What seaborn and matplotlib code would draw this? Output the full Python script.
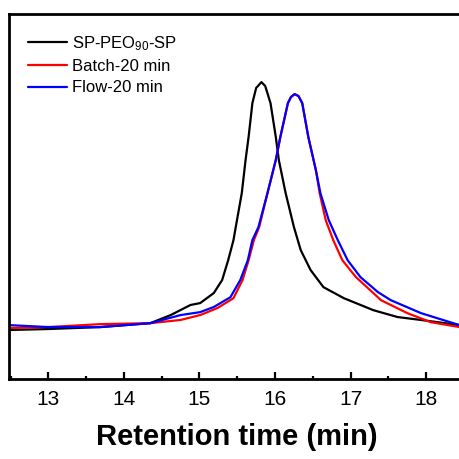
import matplotlib
matplotlib.use("Agg")
import matplotlib.pyplot as plt
import seaborn as sns
import pandas as pd
from matplotlib.ticker import MultipleLocator
from matplotlib.lines import Line2D

sns.set_style("ticks")
plt.rcParams['font.family'] = ['Liberation Sans', 'DejaVu Sans']
plt.rcParams['mathtext.default'] = 'regular'
for k in ['axes.edgecolor', 'xtick.color', 'ytick.color', 'text.color', 'axes.labelcolor']:
    plt.rcParams[k] = 'black'

# Retention time (min) and normalized RI intensity
t_black = [12.48, 13.00, 13.69, 14.35, 14.62, 14.88, 15.01, 15.19, 15.30, 15.38, 15.45,
           15.48, 15.56, 15.61, 15.65, 15.70, 15.75, 15.82, 15.87, 15.94, 16.01, 16.05,
           16.14, 16.25, 16.34, 16.47, 16.64, 16.91, 17.30, 17.62, 17.93, 18.44]
i_black = [-0.012, -0.008, 0.000, 0.016, 0.049, 0.090, 0.098, 0.139, 0.192, 0.273, 0.355,
           0.408, 0.547, 0.682, 0.776, 0.914, 0.976, 1.000, 0.984, 0.914, 0.776, 0.682,
           0.547, 0.408, 0.314, 0.233, 0.163, 0.118, 0.069, 0.041, 0.029, 0.008]

t_batch = [12.48, 13.00, 13.69, 14.35, 14.75, 15.01, 15.24, 15.45, 15.57, 15.65, 15.72,
           15.79, 15.90, 16.01, 16.07, 16.17, 16.21, 16.26, 16.31, 16.36, 16.44, 16.54,
           16.59, 16.67, 16.77, 16.89, 17.07, 17.30, 17.40, 17.75, 18.06, 18.44]
i_batch = [-0.004, 0.000, 0.012, 0.016, 0.029, 0.049, 0.078, 0.118, 0.192, 0.273, 0.355,
           0.408, 0.547, 0.682, 0.776, 0.914, 0.939, 0.951, 0.943, 0.914, 0.776, 0.641,
           0.547, 0.437, 0.355, 0.273, 0.204, 0.139, 0.110, 0.057, 0.020, 0.000]

t_flow = [12.48, 13.00, 13.69, 14.35, 14.75, 15.01, 15.19, 15.41, 15.54, 15.64, 15.70,
          15.78, 15.90, 16.01, 16.07, 16.17, 16.21, 16.26, 16.31, 16.36, 16.44, 16.54,
          16.60, 16.71, 16.83, 16.96, 17.13, 17.36, 17.53, 17.93, 18.44]
i_flow = [0.008, 0.000, 0.000, 0.016, 0.049, 0.061, 0.082, 0.122, 0.192, 0.273, 0.355,
          0.408, 0.547, 0.682, 0.776, 0.914, 0.939, 0.951, 0.943, 0.914, 0.776, 0.641,
          0.547, 0.437, 0.355, 0.273, 0.204, 0.143, 0.110, 0.057, 0.008]

labels = ["SP-PEO$_{90}$-SP", "Batch-20 min", "Flow-20 min"]
colors = ["#000000", "#ff0000", "#0000ff"]

df = pd.concat([
    pd.DataFrame({"t": t_black, "I": i_black, "s": labels[0]}),
    pd.DataFrame({"t": t_batch, "I": i_batch, "s": labels[1]}),
    pd.DataFrame({"t": t_flow, "I": i_flow, "s": labels[2]}),
], ignore_index=True)

W = H = 459
fig = plt.figure(figsize=(W / 100, H / 100), dpi=100)
ax = fig.add_axes([9 / W, (H - 379) / H, (464 - 9) / W, (379 - 14) / H])

sns.lineplot(data=df, x="t", y="I", hue="s", hue_order=labels,
             palette=dict(zip(labels, colors)), estimator=None, sort=False,
             linewidth=1.6, ax=ax, legend=False)

ax.set_xlim(12.48, 18.5)
ax.set_ylim(-0.212, 1.278)
ax.xaxis.set_major_locator(MultipleLocator(1))
ax.xaxis.set_minor_locator(MultipleLocator(0.5))
ax.tick_params(axis='x', which='major', direction='in', length=5, width=1.6,
               labelsize=15, pad=8)
ax.tick_params(axis='x', which='minor', direction='in', length=2.5, width=1.6)
ax.set_yticks([])
for sp in ax.spines.values():
    sp.set_linewidth(2.0)
    sp.set_visible(True)
ax.set_xlabel("Retention time (min)", fontsize=21, fontweight='bold', labelpad=10)
ax.set_ylabel("")

handles = [Line2D([], [], color=c, lw=1.6) for c in colors]
fig.legend(handles, labels, loc='upper left', bbox_to_anchor=(28 / W, 1 - 34 / H),
           frameon=False, fontsize=12, handlelength=2.35, handletextpad=0.3,
           labelspacing=0.38, borderpad=0, borderaxespad=0)

fig.savefig("out.png", dpi=100)
